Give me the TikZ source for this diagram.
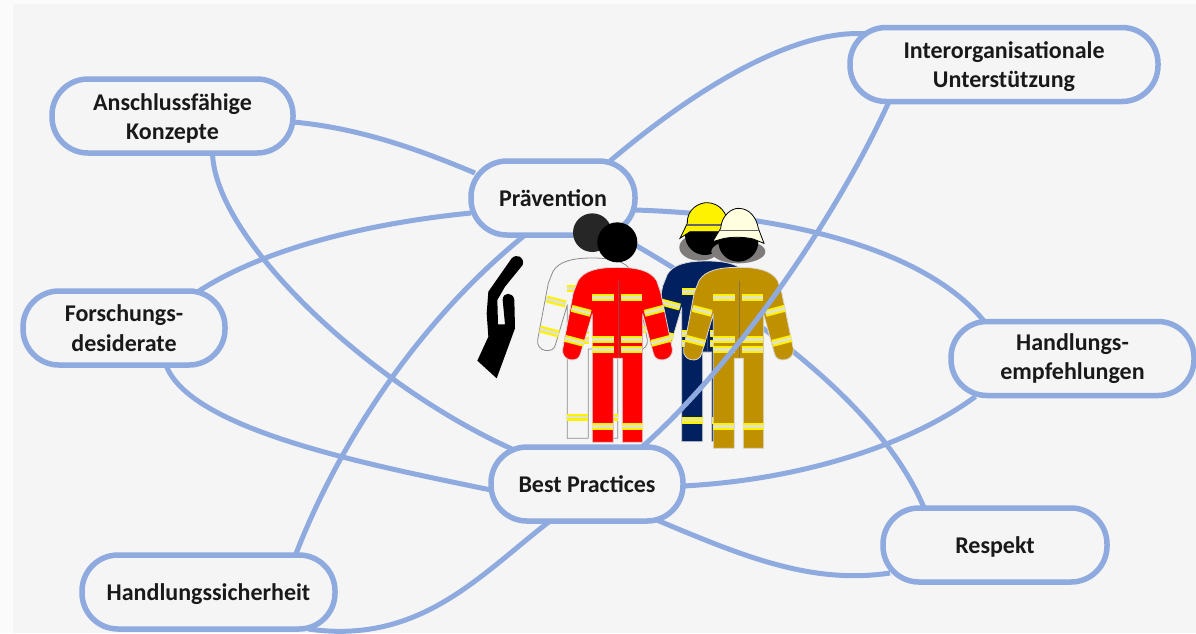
\documentclass[tikz,border=0pt]{standalone}
\usepackage{fontspec}
\setmainfont{Carlito}
\usetikzlibrary{backgrounds}
\definecolor{bgc}{HTML}{F5F5F5}
\definecolor{linkc}{HTML}{8EAADF}
\definecolor{stripec}{HTML}{E2E2C8}
\definecolor{goldc}{HTML}{BF9000}
\definecolor{navyc}{HTML}{002060}
\definecolor{hoodc}{HTML}{7F7B7B}
\definecolor{creamc}{HTML}{FFFFE0}
\newcommand\dn{\rule{0pt}{21.5pt}}
\tikzset{
  topic/.style={draw=linkc,line width=5.5pt,fill=bgc,rounded corners=36pt,minimum height=74pt,
    outer sep=0pt,inner sep=0pt,align=center,font=\fontsize{24}{29.5}\selectfont\bfseries,text=black!90},
  link/.style={draw=linkc,line width=5pt},
  zoomed/.style={shift={(460,190)},scale=1/3}
}
% body: x, y, leg length, fill, outline
\newcommand\fwbody[5]{%
  \begin{scope}[shift={(#1,#2)}]
  \path[fill=#4,draw=#5,line width=.8pt,line join=round]
    (0,0) .. controls (-60,0) and (-100,10) .. (-118,40) -- (-132,75) -- (-164,245)
    .. controls (-170,282) and (-115,290) .. (-110,258) -- (-75,140) -- (-75,#3) -- (-12,#3) -- (-12,273)
    -- (15,273) -- (15,#3) -- (76,#3) -- (76,140) -- (108,258)
    .. controls (113,290) and (170,282) .. (165,245) -- (130,75) -- (118,40)
    .. controls (100,10) and (60,0) .. (0,0) -- cycle;
  \draw[black!60,line width=.8pt,opacity=.6] (3,40) -- (3,273);
  \end{scope}}
\newcommand\fwstripe[5]{%
  \begin{scope}[shift={(#1)}]
  \draw[yellow,line width=7pt] (#2,#3) -- (#4,#5);
  \draw[stripec,line width=2.8pt] (#2,#3) -- (#4,#5);
  \end{scope}}
\newcommand\fwstripes[2]{%
  \fwstripe{#1}{-75}{91}{-9}{91}\fwstripe{#1}{10}{91}{75}{91}
  \fwstripe{#1}{-75}{217}{-9}{217}\fwstripe{#1}{10}{217}{75}{217}
  \fwstripe{#1}{-75}{247}{-9}{247}\fwstripe{#1}{10}{247}{75}{247}
  \fwstripe{#1}{-137}{123}{-80}{138}\fwstripe{#1}{82}{138}{139}{123}
  \fwstripe{#1}{-157}{213}{-100}{228}\fwstripe{#1}{102}{228}{160}{213}
  \fwstripe{#1}{-75}{#2}{-12}{#2}\fwstripe{#1}{15}{#2}{76}{#2}}
\begin{document}
\begin{tikzpicture}[x=1pt,y=-1pt]
\useasboundingbox (0,0) rectangle (1196,633);
\node[topic,minimum width=308pt] (inter) at (1004,64.5) {\dn Interorganisationale\\Unterstützung};
\node[topic,minimum width=241pt] (ansch) at (172.5,116) {\dn Anschlussfähige\\Konzepte};
\node[topic,minimum width=164pt] (prae) at (553,198) {Prävention};
\node[topic,minimum width=202pt] (forsch) at (124,328) {Forschungs-\\desiderate};
\node[topic,minimum width=243pt] (empf) at (1072.5,358.5) {Handlungs-\\empfehlungen};
\node[topic,minimum width=192pt] (best) at (587,484) {Best Practices};
\node[topic,minimum width=224pt] (resp) at (995,545) {\dn Respekt};
\node[topic,minimum width=253pt] (sicher) at (208.5,592) {\dn Handlungssicherheit};
\begin{scope}[on background layer]
  \fill[white!60!bgc] (0,0) rectangle (1196,633);
  \fill[bgc] (13,4) rectangle (1196,633);
  \draw[link] ([yshift=-6pt]ansch.east) .. controls (360,128) and (420,150) .. ([xshift=-78pt,yshift=25pt]prae.center);
  \draw[link] ([xshift=40pt]ansch.south) .. controls (215,240) and (370,385) .. ([xshift=-75pt,yshift=35pt]best.center);
  \draw[link] ([xshift=75pt,yshift=37pt]forsch.center) .. controls (270,245) and (380,222) .. ([yshift=-15pt]prae.west);
  \draw[link] ([xshift=42pt]forsch.south) .. controls (190,430) and (370,465) .. ([yshift=-6pt]best.west);
  \draw[link] ([xshift=87pt]sicher.north) .. controls (340,440) and (420,320) .. ([xshift=-28pt]prae.south);
  \draw[link] ([xshift=100pt]sicher.south) .. controls (420,645) and (480,575) .. ([xshift=-37pt]best.south);
  \draw[link] ([xshift=57pt]prae.north) .. controls (700,85) and (800,25) .. ([xshift=-130pt,yshift=30pt]inter.center);
  \draw[link] ([yshift=-12pt]prae.east) .. controls (790,215) and (930,250) .. ([xshift=-85pt,yshift=33pt]empf.center);
  \draw[link] ([xshift=65pt]prae.south) .. controls (740,305) and (880,400) .. ([xshift=-70pt,yshift=35pt]resp.center);
  \draw[link] ([yshift=-2pt]best.east) .. controls (800,480) and (910,445) .. ([xshift=-97pt,yshift=-38pt]empf.center);
  \draw[link] ([xshift=65pt,yshift=-34pt]best.center) .. controls (740,555) and (810,585) .. ([xshift=-105pt,yshift=-28pt]resp.center);
\end{scope}
\begin{scope}[zoomed]
  % hand
  \fill[black] (155,205) -- (85,305) -- (80,370) -- (85,440) -- (52,512) -- (110,565)
    -- (165,415) -- (163,330) .. controls (160,305) and (128,305) .. (128,330) -- (135,403) -- (114,403) -- (112,330)
    -- (135,290) -- (188,225) .. controls (195,200) and (170,190) .. (155,205) -- cycle;
  % person in white
  \fill[black!85] (397,128) circle (58);
  \fwbody{397}{204}{541}{bgc}{black!45}
  \fwstripes{397,204}{477}
  % person in navy
  \fill[hoodc] (720,172) ellipse (62 and 40);
  \fill[black] (735,135) circle (60);
  \draw[black,fill=yellow,line width=.8pt] (660,145) -- (682,100) .. controls (680,55) and (720,38) .. (740,38)
    .. controls (780,38) and (800,70) .. (805,100) -- (810,145) -- (780,125) -- (690,125) -- cycle;
  \draw[black!60,line width=1.6pt] (682,105) -- (790,105);
  \fwbody{740}{213}{542}{navyc}{white!85!black}
  \fwstripes{740,213}{477}
  % person in red
  \fwbody{472}{232}{525}{red}{white!85!black}
  \fwstripes{472,232}{477}
  \fill[black] (472,157) circle (60);
  % person in gold
  \fill[hoodc] (835,185) ellipse (81 and 35);
  \fill[black] (835,155) circle (60);
  \fwbody{835}{232}{543}{goldc}{white!85!black}
  \fwstripes{835,232}{477}
  \draw[black,fill=creamc,line width=.8pt] (758,155) -- (782,115) .. controls (785,75) and (815,55) .. (835,55)
    .. controls (870,55) and (890,85) .. (895,115) -- (912,160) -- (880,147) .. controls (850,140) and (810,140) .. (785,147) -- cycle;
  \draw[black!60,line width=1.6pt] (780,122) -- (897,122);
\end{scope}
\draw[link] ([xshift=-115pt]inter.south) .. controls (840,210) and (740,360) .. ([xshift=55pt]best.north);
\end{tikzpicture}
\end{document}
